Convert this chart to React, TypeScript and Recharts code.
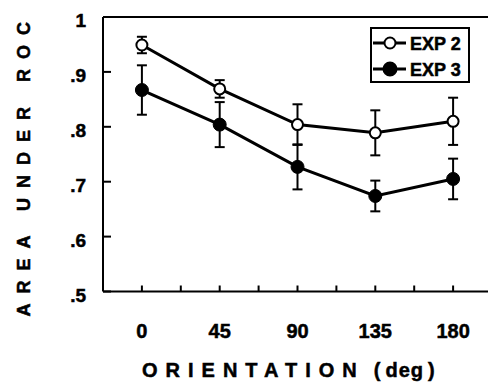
import {
  ComposedChart,
  Line,
  ErrorBar,
  XAxis,
  YAxis,
  ReferenceLine,
  Legend,
} from "recharts";

const orientations = [0, 45, 90, 135, 180];
const exp2 = [0.949, 0.869, 0.804, 0.789, 0.81];
const exp2Err = [0.015, 0.016, 0.037, 0.041, 0.043];
const exp3 = [0.867, 0.804, 0.727, 0.674, 0.705];
const exp3Err = [0.045, 0.041, 0.041, 0.028, 0.037];

const xTicks = [0, 22.5, 45, 67.5, 90, 112.5, 135, 157.5, 180];
const xTickLabels = ["0", "45", "90", "135", "180"];
const yTicks = [0.5, 0.6, 0.7, 0.8, 0.9, 1];
const yTickLabels = [".5", ".6", ".7", ".8", ".9", "1"];

const seriesNames = ["EXP 2", "EXP 3"];
const markerFill: Record<string, string> = { "EXP 2": "#fff", "EXP 3": "#000" };

const data = orientations.map((o, i) => ({
  orientation: o,
  exp2: exp2[i],
  exp2Err: exp2Err[i],
  exp3: exp3[i],
  exp3Err: exp3Err[i],
}));

const font = "'Liberation Sans', Arial, sans-serif";
// scanned print look: slightly heavier glyphs
const ink = { fill: "#000", stroke: "#000", strokeWidth: 0.5 };

const XTick = (props: any) => {
  const { x, y, payload } = props;
  const idx = orientations.indexOf(payload.value);
  return (
    <g>
      <line x1={x} y1={y} x2={x} y2={y - 6} stroke="#000" strokeWidth={2} />
      {idx >= 0 && (
        <text
          x={x}
          y={y + 46}
          textAnchor="middle"
          fontFamily={font}
          fontWeight="bold"
          fontSize={20}
          {...ink}
        >
          {xTickLabels[idx]}
        </text>
      )}
    </g>
  );
};

const YTick = (props: any) => {
  const { x, y, payload } = props;
  const idx = yTicks.findIndex((t) => Math.abs(t - payload.value) < 1e-6);
  return (
    <g>
      <line x1={x} y1={y} x2={x + 8} y2={y} stroke="#000" strokeWidth={2} />
      <text
        x={x - 17}
        y={y + 10}
        textAnchor="end"
        fontFamily={font}
        fontWeight="bold"
        fontSize={19}
        {...ink}
      >
        {yTickLabels[idx]}
      </text>
    </g>
  );
};

const renderLegend = (props: any) => {
  const items = props.payload || [];
  return (
    <svg width={100} height={56} style={{ display: "block" }}>
      <rect x={1} y={1} width={98} height={54} fill="#fff" stroke="#000" strokeWidth={2} />
      {items.map((item: any, i: number) => {
        const cy = 16 + i * 26;
        return (
          <g key={item.value}>
            <line x1={3} y1={cy} x2={36} y2={cy} stroke="#000" strokeWidth={3} />
            <circle
              cx={20}
              cy={cy}
              r={markerFill[item.value] === "#000" ? 6.5 : 5.5}
              fill={markerFill[item.value]}
              stroke="#000"
              strokeWidth={2}
            />
            <text
              x={40}
              y={cy + 7}
              fontFamily={font}
              fontWeight="bold"
              fontSize={18}
              {...ink}
            >
              {item.value}
            </text>
          </g>
        );
      })}
    </svg>
  );
};

export default function App() {
  return (
    <div
      style={{
        position: "absolute",
        left: 0,
        top: 0,
        width: 488,
        height: 382,
        overflow: "hidden",
        background: "#fff",
      }}
    >
      <ComposedChart
        width={500}
        height={382}
        data={data}
        margin={{ top: 17, right: 8, left: 0, bottom: 0 }}
      >
        <XAxis
          dataKey="orientation"
          type="number"
          domain={[-22.5, 202.5]}
          ticks={xTicks}
          interval={0}
          height={90.5}
          tickSize={0}
          tickMargin={0}
          tick={<XTick />}
          axisLine={{ stroke: "#000", strokeWidth: 2 }}
          label={(p: any) => {
            const vb = p.viewBox;
            return (
              <text
                x={vb.x + 39}
                y={vb.y + 85}
                fontFamily={font}
                fontWeight="bold"
                fontSize={20}
                {...ink}
              >
                <tspan letterSpacing={8}>ORIENTATION</tspan>
                <tspan dx={9}>(</tspan>
                <tspan dx={5} letterSpacing={1}>deg</tspan>
                <tspan dx={4}>)</tspan>
              </text>
            );
          }}
        />
        <YAxis
          type="number"
          domain={[0.5, 1]}
          ticks={yTicks}
          interval={0}
          width={103}
          tickSize={0}
          tickMargin={0}
          tick={<YTick />}
          axisLine={{ stroke: "#000", strokeWidth: 2 }}
          label={(p: any) => {
            const vb = p.viewBox;
            const cx = 30;
            const cy = vb.y + vb.height / 2 + 10;
            return (
              <text
                x={cx}
                y={cy}
                transform={`rotate(-90 ${cx} ${cy})`}
                textAnchor="middle"
                fontFamily={font}
                fontWeight="bold"
                fontSize={18}
                letterSpacing={10}
                {...ink}
              >
                AREA UNDER ROC
              </text>
            );
          }}
        />
        <ReferenceLine y={1} stroke="#000" strokeWidth={2} />
        <Legend
          layout="horizontal"
          verticalAlign="middle"
          align="center"
          content={renderLegend}
          wrapperStyle={{ left: 370, top: 27, width: 100, height: 56 }}
        />
        <Line
          name={seriesNames[0]}
          dataKey="exp2"
          type="linear"
          stroke="#000"
          strokeWidth={3}
          dot={{ r: 5.5, fill: "#fff", stroke: "#000", strokeWidth: 2 }}
          activeDot={false}
          isAnimationActive={false}
        >
          <ErrorBar
            dataKey="exp2Err"
            direction="y"
            width={5}
            stroke="#000"
            strokeWidth={2}
            isAnimationActive={false}
          />
        </Line>
        <Line
          name={seriesNames[1]}
          dataKey="exp3"
          type="linear"
          stroke="#000"
          strokeWidth={3}
          dot={{ r: 6.5, fill: "#000", stroke: "#000", strokeWidth: 1 }}
          activeDot={false}
          isAnimationActive={false}
        >
          <ErrorBar
            dataKey="exp3Err"
            direction="y"
            width={5}
            stroke="#000"
            strokeWidth={2}
            isAnimationActive={false}
          />
        </Line>
      </ComposedChart>
    </div>
  );
}
